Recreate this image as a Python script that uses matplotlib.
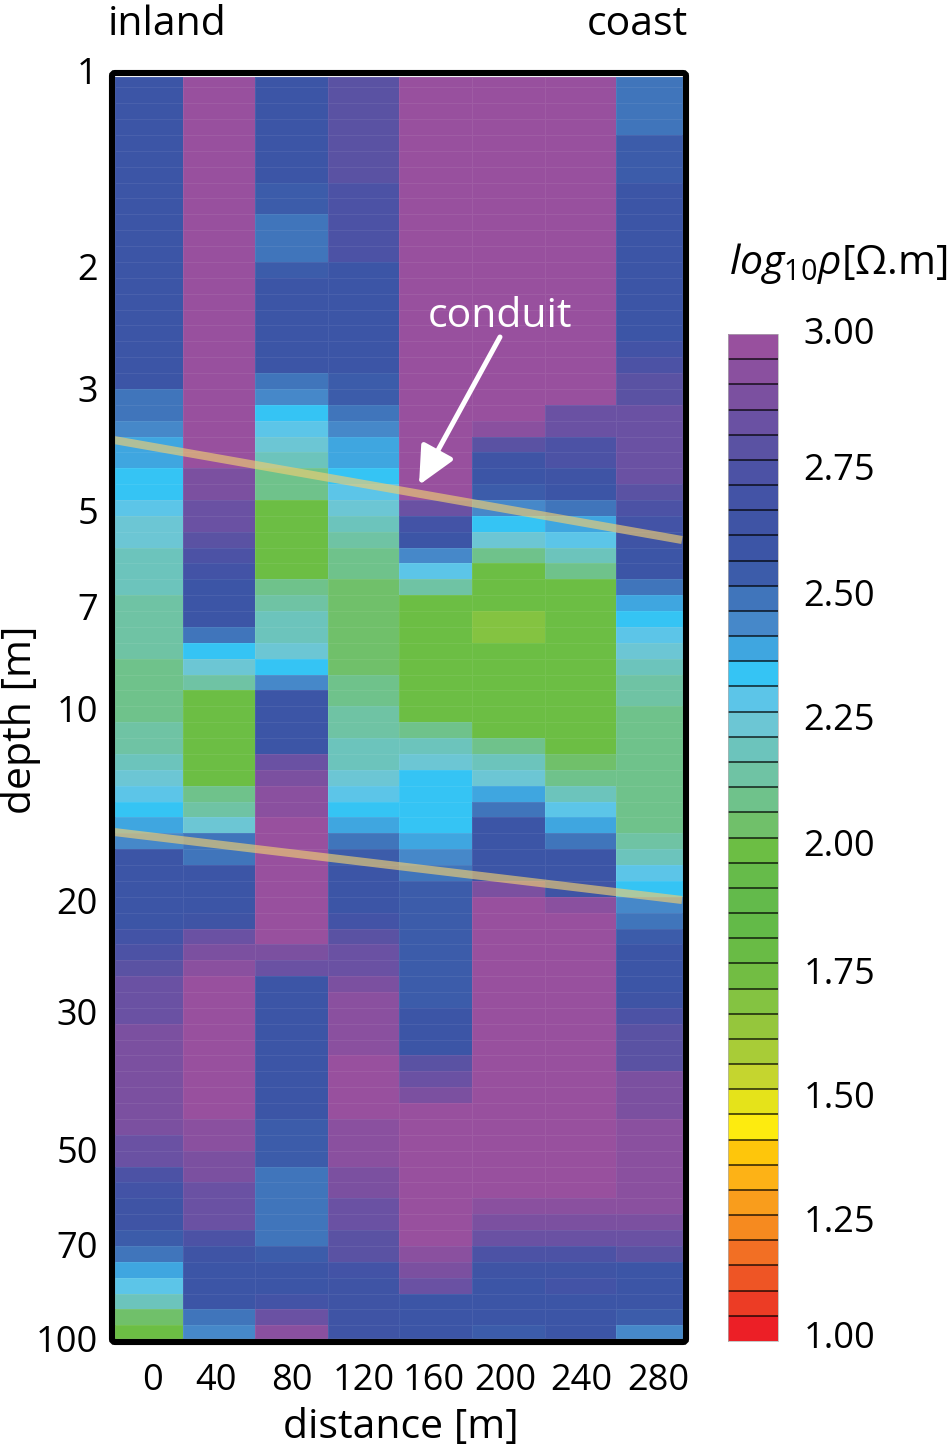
import numpy as np
import matplotlib
matplotlib.use("Agg")
import matplotlib.pyplot as plt
from matplotlib.colors import ListedColormap, BoundaryNorm
from matplotlib.patches import FancyBboxPatch
from matplotlib.transforms import IdentityTransform

W, H = 950, 1447
FONT = "Open Sans"
plt.rcParams["font.family"] = [FONT, "DejaVu Sans"]
plt.rcParams["mathtext.fontset"] = "custom"
plt.rcParams["mathtext.rm"] = FONT
plt.rcParams["mathtext.it"] = FONT + ":italic"

distance_labels = ["0", "40", "80", "120", "160", "200", "240", "280"]
depth_labels = ["1", "2", "3", "5", "7", "10", "20", "30", "50", "70", "100"]
cbar_labels = ["3.00", "2.75", "2.50", "2.25", "2.00", "1.75", "1.50", "1.25", "1.00"]

# log10 resistivity down each column, as (value, number of depth rows)
col_000_v = [2.58,2.48,2.43,2.38,2.33,2.28,2.23,2.18,2.13,2.08,2.13,2.18,2.23,2.28,2.33,2.38,2.43,2.58,2.68,2.73,2.78,2.83,2.88,2.83,2.73,2.68,2.63,2.53,2.48,2.38,2.28,2.18,2.03,1.98]
col_000_n = [20,2,1,2,2,1,2,3,4,4,2,1,1,1,1,1,1,5,1,1,1,3,7,2,1,1,2,1,1,1,1,1,1,1]
col_040_v = [2.98,2.88,2.83,2.78,2.73,2.68,2.58,2.48,2.33,2.23,2.13,1.98,2.08,2.13,2.23,2.48,2.58,2.63,2.83,2.88,2.93,2.98,2.93,2.88,2.83,2.73,2.63,2.58,2.48,2.43]
col_040_n = [25,2,2,1,1,1,3,1,1,1,1,6,1,1,1,2,3,1,1,1,1,9,2,2,3,1,1,3,1,1]
col_080_v = [2.58,2.53,2.48,2.53,2.58,2.48,2.43,2.33,2.28,2.23,2.18,2.08,1.98,2.08,2.13,2.18,2.23,2.33,2.43,2.58,2.83,2.88,2.93,2.98,2.88,2.83,2.58,2.53,2.48,2.53,2.58,2.68,2.83,2.93]
col_080_n = [7,2,3,1,6,1,1,1,1,1,1,2,5,1,1,2,1,1,1,4,1,1,2,8,1,1,9,3,5,1,2,1,1,1]
col_120_v = [2.78,2.73,2.58,2.53,2.48,2.43,2.38,2.33,2.28,2.23,2.18,2.13,2.08,2.03,2.08,2.13,2.18,2.23,2.28,2.33,2.38,2.48,2.53,2.58,2.68,2.78,2.83,2.88,2.93,2.98,2.93,2.88,2.83,2.78,2.68,2.63]
col_120_n = [7,5,7,2,1,1,2,1,1,1,1,1,2,6,2,2,2,1,1,1,1,1,1,3,1,1,2,1,4,4,3,2,2,2,1,4]
col_160_v = [2.98,2.83,2.68,2.58,2.43,2.28,2.13,1.98,2.08,2.18,2.23,2.33,2.38,2.43,2.48,2.53,2.58,2.78,2.83,2.88,2.98,2.93,2.88,2.83,2.58]
col_160_n = [27,1,1,1,1,1,1,8,1,1,1,4,1,1,1,8,3,1,1,1,9,1,1,1,3]
col_200_v = [2.98,2.93,2.78,2.63,2.58,2.53,2.43,2.33,2.23,2.08,1.98,1.68,1.98,2.08,2.18,2.23,2.38,2.48,2.58,2.88,2.98,2.93,2.88,2.83,2.73,2.63,2.58,2.53]
col_200_n = [22,1,1,1,1,1,1,1,1,1,3,2,6,1,1,1,1,1,4,1,19,1,1,1,1,1,3,1]
col_240_v = [2.98,2.83,2.73,2.63,2.58,2.48,2.38,2.28,2.18,2.08,1.98,2.03,2.08,2.18,2.28,2.38,2.48,2.58,2.63,2.93,2.98,2.93,2.88,2.83,2.73,2.63,2.68,2.58]
col_240_n = [21,2,2,1,1,1,1,1,1,1,11,1,1,1,1,1,1,2,1,1,18,1,1,1,1,1,1,3]
col_280_v = [2.48,2.53,2.58,2.68,2.73,2.78,2.83,2.78,2.73,2.68,2.63,2.58,2.48,2.38,2.33,2.28,2.23,2.18,2.13,2.08,2.13,2.18,2.28,2.33,2.43,2.48,2.53,2.58,2.63,2.73,2.78,2.88,2.93,2.88,2.83,2.78,2.58,2.53,2.43]
col_280_n = [4,3,10,1,1,2,5,1,1,1,1,2,1,1,1,1,1,1,2,8,1,1,1,1,1,1,1,3,1,1,3,3,6,1,1,1,3,1,1]

cmap_colors = ["#98509E","#8A509F","#7B50A0","#6A51A3","#5A52A3","#4C52A5","#4353A6","#3F54A5","#3C55A6","#3C5CAA",
               "#4075BB","#4688C9","#3FA6E0","#35C4F4","#5CC5E8","#6CC6D4","#6CC4BC","#6FC3A4","#6FC28B","#70C06A",
               "#6CBE44","#66BB4A","#63BA4B","#63BA48","#69BB45","#72BD43","#84C341","#95C63C","#A8CC37","#C5D52F",
               "#E5E31A","#FDEB0F","#FEC60B","#FDB216","#F99D1C","#F68A1F","#F26F24","#EE5525","#EC3C25","#EC1F26"]

columns = [(col_000_v,col_000_n),(col_040_v,col_040_n),(col_080_v,col_080_n),(col_120_v,col_120_n),
           (col_160_v,col_160_n),(col_200_v,col_200_n),(col_240_v,col_240_n),(col_280_v,col_280_n)]
grid = np.column_stack([np.repeat(v, n) for v, n in columns])

# layout, in pixels of the figure
ROW_PX, TOP_PX = 15.87, 76.7
M_PX, ZERO_PX = 1.7825, 149.0
px_y = lambda p: (p - TOP_PX) / ROW_PX
px_x = lambda p: (p - ZERO_PX) / M_PX
col_edges_px = [114.5, 183, 255, 327.5, 399, 472, 545, 616, 682.5]
depth_label_px = [70.5, 266.5, 388.5, 510.5, 606.5, 708.5, 900.5, 1011.5, 1149.5, 1244.5, 1338.5]
dist_label_px = [152, 216, 292, 364, 434, 505, 581, 658]
cbar_label_px = [331, 467, 593, 717, 842, 971, 1094, 1219, 1335]
FS = 26
FS_WORD = 29.5

def box(l, t, r, b):
    return [l / W, 1 - b / H, (r - l) / W, (b - t) / H]

fig = plt.figure(figsize=(W / 100, H / 100), dpi=100, facecolor="white")

cmap = ListedColormap(cmap_colors[::-1])
bounds = np.linspace(1, 3, 41)
norm = BoundaryNorm(bounds, cmap.N)

ax = fig.add_axes(box(109, 68, 689, 1345))
row_edges = np.r_[0, 0.674 + np.arange(79), px_y(1338)]
ax.pcolormesh(px_x(np.array(col_edges_px)), row_edges, grid, cmap=cmap, norm=norm,
              edgecolors=(1, 1, 1, 0.07), linewidth=0.6)
ax.set_xlim(px_x(109), px_x(689))
ax.set_ylim(px_y(1345), px_y(68))
for s in ax.spines.values():
    s.set_visible(False)
ax.set_xticks([px_x(p) for p in dist_label_px], distance_labels, fontsize=FS)
ax.set_yticks([px_y(p) for p in depth_label_px], depth_labels, fontsize=FS)
ax.tick_params(axis="x", length=0, pad=13)
ax.tick_params(axis="y", length=0, pad=8)

band = dict(color="#EECD74", alpha=0.65, lw=5.8, solid_capstyle="butt", zorder=3)
ax.plot([px_x(114), px_x(682)], [px_y(440), px_y(540)], **band)
ax.plot([px_x(114), px_x(682)], [px_y(832), px_y(900)], **band)

ax.annotate("", xy=(px_x(419), px_y(485)), xytext=(px_x(500), px_y(337)),
            arrowprops=dict(arrowstyle="-|>,head_length=1.15,head_width=0.55", color="white", lw=3.6,
                            shrinkA=0, shrinkB=0, mutation_scale=20), zorder=4)
fig.text(500 / W, 1 - 317 / H, "conduit", color="white", fontsize=FS_WORD, ha="center", va="center")

fig.add_artist(FancyBboxPatch((112, H - 1342), 574, 1269, boxstyle="round,pad=0,rounding_size=3",
                              fill=False, ec="black", lw=4.4, transform=IdentityTransform()))

fig.text(108 / W, 1 - 25 / H, "inland", fontsize=FS_WORD, ha="left", va="center")
fig.text(688 / W, 1 - 25 / H, "coast", fontsize=FS_WORD, ha="right", va="center")
fig.text(21 / W, 1 - 720 / H, "depth [m]", fontsize=FS_WORD, rotation=90, ha="center", va="center")
fig.text(401 / W, 1 - 1428 / H, "distance [m]", fontsize=FS_WORD, ha="center", va="center")
fig.text(729 / W, 1 - 263 / H, r"$\mathit{log}_{10}\mathit{\rho}$[Ω.m]", fontsize=FS_WORD, ha="left", va="center")

# colour bar
cax = fig.add_axes(box(727, 320, 779, 1355))
v_of_px = lambda p: 3 - (p - 334) / 1007 * 2
cax.pcolormesh([0.02, 0.98], bounds, np.array(bounds[:-1] + 0.025)[:, None], cmap=cmap, norm=norm,
               edgecolors="none")
cax.hlines(bounds[1:-1], 0.02, 0.98, color="black", alpha=0.7, lw=1.3)
cax.plot([0.02, 0.98, 0.98, 0.02, 0.02], [1, 1, 3, 3, 1], color="#b0b0b0", lw=0.5)
cax.set_xlim(0, 1)
cax.set_ylim(v_of_px(1355), v_of_px(320))
for s in cax.spines.values():
    s.set_visible(False)
cax.set_xticks([])
cax.yaxis.tick_right()
cax.set_yticks([v_of_px(p) for p in cbar_label_px], cbar_labels, fontsize=FS)
cax.tick_params(axis="y", length=0, pad=17.5)

fig.savefig("out.png", dpi=100)
